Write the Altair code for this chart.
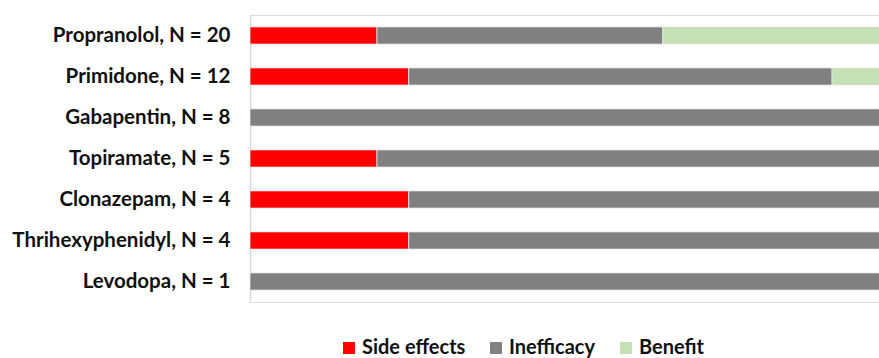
import altair as alt
import pandas as pd

drugs = ["Propranolol, N = 20", "Primidone, N = 12", "Gabapentin, N = 8",
         "Topiramate, N = 5", "Clonazepam, N = 4", "Thrihexyphenidyl, N = 4",
         "Levodopa, N = 1"]
side_effects = [4, 3, 0, 1, 1, 1, 0]
inefficacy = [9, 8, 8, 4, 3, 3, 1]
benefit = [7, 1, 0, 0, 0, 0, 0]
outcomes = ["Side effects", "Inefficacy", "Benefit"]
colors = ["#ff0000", "#808080", "#c5e0b4"]

rows = []
for i, d in enumerate(drugs):
    for k, (name, vals) in enumerate(zip(outcomes, [side_effects, inefficacy, benefit])):
        rows.append({"drug": d, "outcome": name, "count": vals[i], "ord": k})
df = pd.DataFrame(rows)

chart = alt.Chart(df).mark_bar(stroke="#e8e8e8", strokeWidth=0.8, clip=True).encode(
    y=alt.Y("drug:N", sort=drugs, title=None,
            scale=alt.Scale(paddingInner=0.58, paddingOuter=0.29),
            axis=alt.Axis(labelFont="Lato", labelFontWeight="bold", labelFontSize=20.5,
                          labelColor="#111", labelPadding=20, ticks=False, labelLimit=400,
                          domainColor="#d9d9d9", domainWidth=1.5, grid=False)),
    x=alt.X("count:Q", stack="normalize", title=None, axis=None,
            scale=alt.Scale(domain=[0, 0.9906], nice=False, clamp=False)),
    color=alt.Color("outcome:N", sort=outcomes,
                    scale=alt.Scale(domain=outcomes, range=colors),
                    legend=alt.Legend(title=None, orient="none", direction="horizontal",
                                      legendX=89, legendY=323,
                                      symbolType="square", symbolSize=144,
                                      symbolStrokeWidth=0, symbolOpacity=1,
                                      labelFont="Lato", labelFontWeight="bold",
                                      labelFontSize=20, labelColor="#111",
                                      columnPadding=20, labelOffset=3)),
    order=alt.Order("ord:Q"),
).properties(
    width=629, height=287,
    autosize=alt.AutoSizeParams(type="none"),
    padding={"left": 250, "top": 15, "right": 0, "bottom": 56},
).configure_view(stroke=None).configure(background="white")

chart.save("out.html", embed_options={"renderer": "svg", "actions": False})
